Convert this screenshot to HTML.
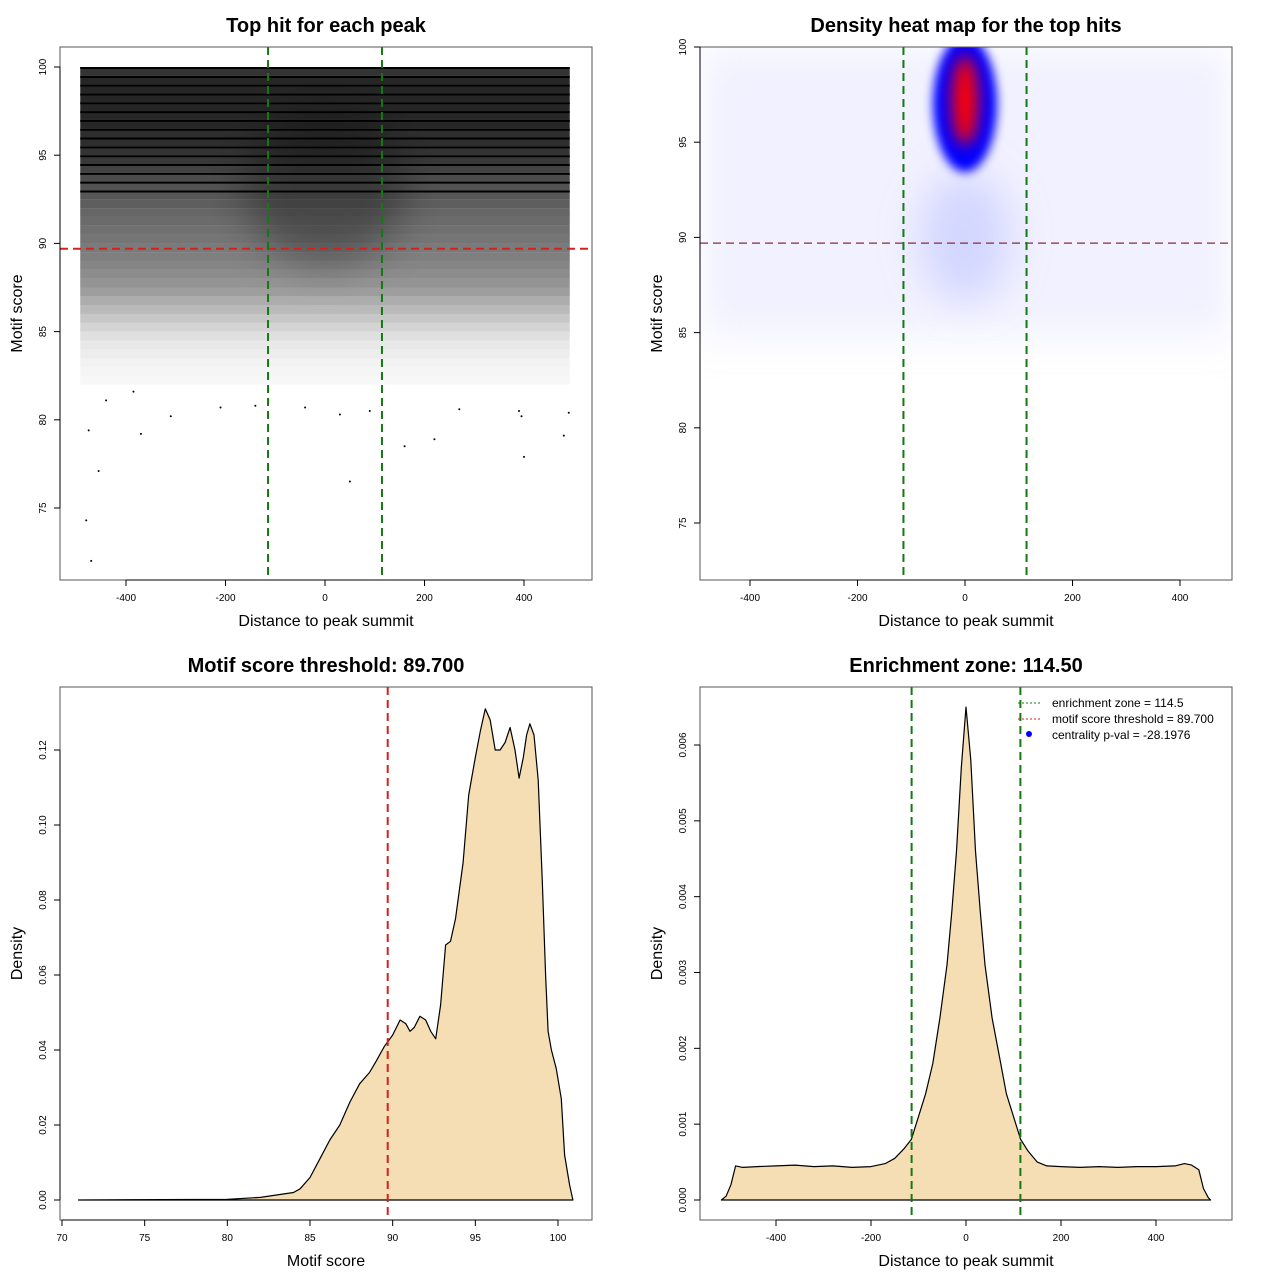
<!DOCTYPE html>
<html><head><meta charset="utf-8"><style>
body{margin:0;background:#fff}
svg{display:block;font-family:"Liberation Sans",sans-serif}
</style></head><body>
<svg id="s" width="1280" height="1280" viewBox="0 0 1280 1280">
<defs>
<filter id="blur8" x="-50%" y="-50%" width="200%" height="200%"><feGaussianBlur stdDeviation="8"/></filter>
<filter id="blur5" x="-50%" y="-50%" width="200%" height="200%"><feGaussianBlur stdDeviation="5"/></filter>
<filter id="blur20" x="-50%" y="-50%" width="200%" height="200%"><feGaussianBlur stdDeviation="20"/></filter>
<clipPath id="c2"><rect x="700" y="47" width="532" height="533"/></clipPath>
<clipPath id="c1"><rect x="60" y="47" width="532" height="533"/></clipPath>
</defs>
<g id="p1"></g>
<g id="p2"></g>
<g id="p3"></g>
<g id="p4"></g>
</svg>
<script>
// ---- data ----
const bandScores = [100,99.5,99,98.5,98,97.5,97,96.5,96,95.5,95,94.5,94,93.5,93,92.5,92,91.5,91,90.5,90,89.5,89,88.5,88,87.5,87,86.5,86,85.5,85,84.5,84,83.5,83,82.5];
const bandDensity = [0.8,0.85,0.85,0.85,0.85,0.85,0.85,0.82,0.82,0.8,0.78,0.74,0.7,0.68,0.66,0.63,0.6,0.58,0.56,0.54,0.52,0.5,0.48,0.45,0.42,0.38,0.32,0.27,0.22,0.17,0.12,0.09,0.07,0.05,0.04,0.03];
const outlierX = [-480,-470,-455,-475,-370,-310,-210,-140,-40,30,50,160,220,270,390,395,400,480,490,-440,-385,90];
const outlierY = [74.3,72.0,77.1,79.4,79.2,80.2,80.7,80.8,80.7,80.3,76.5,78.5,78.9,80.6,80.5,80.2,77.9,79.1,80.4,81.1,81.6,80.5];
const scoreGrid = [71,80,82,84,84.4,85,85.6,86.2,86.8,87.4,88,88.6,89,89.5,90,90.45,90.8,91.05,91.3,91.65,92,92.3,92.6,92.9,93.2,93.5,93.8,94.26,94.6,95,95.3,95.6,95.9,96.2,96.5,96.8,97.1,97.4,97.65,97.9,98.1,98.3,98.55,98.8,99.05,99.25,99.4,99.6,99.9,100.2,100.4,100.7,100.9];
const scoreDens = [0,0.0002,0.0007,0.002,0.003,0.006,0.011,0.016,0.02,0.026,0.031,0.034,0.037,0.041,0.044,0.048,0.047,0.045,0.046,0.049,0.048,0.045,0.043,0.052,0.068,0.069,0.075,0.09,0.108,0.118,0.125,0.131,0.128,0.12,0.12,0.122,0.126,0.12,0.1125,0.118,0.124,0.127,0.124,0.112,0.085,0.06,0.045,0.04,0.035,0.027,0.012,0.004,0];
const distGrid = [-515,-505,-495,-485,-470,-440,-400,-360,-320,-280,-240,-200,-170,-150,-130,-115,-100,-85,-70,-55,-40,-30,-20,-10,0,10,20,30,40,55,70,85,100,115,130,150,170,200,240,280,320,360,400,440,460,475,490,500,510,515];
const distDens = [0,0.00005,0.0002,0.00045,0.00043,0.00044,0.00045,0.00046,0.00044,0.00045,0.00043,0.00044,0.00048,0.00055,0.00068,0.0008,0.0011,0.0014,0.0018,0.0024,0.0031,0.0038,0.0046,0.0057,0.0065,0.0058,0.0046,0.0038,0.0031,0.0024,0.0019,0.0014,0.0011,0.0008,0.00065,0.0005,0.00045,0.00044,0.00043,0.00044,0.00043,0.00044,0.00044,0.00045,0.00048,0.00046,0.0004,0.00015,0.00003,0];
const xTicksDist = [-400,-200,0,200,400];
const yTicksScore1 = [75,80,85,90,95,100];
const yTicksScore2 = [75,80,85,90,95,100];
const xTicksScore = [70,75,80,85,90,95,100];
const yTicksD3 = [0,0.02,0.04,0.06,0.08,0.10,0.12];
const yTicksD3Lab = ["0.00","0.02","0.04","0.06","0.08","0.10","0.12"];
const yTicksD4 = [0,0.001,0.002,0.003,0.004,0.005,0.006];
const yTicksD4Lab = ["0.000","0.001","0.002","0.003","0.004","0.005","0.006"];
const threshold = 89.7, zone = 114.5;

const NS="http://www.w3.org/2000/svg";
function mk(parent,tag,attrs,text){const e=document.createElementNS(NS,tag);for(const k in attrs)e.setAttribute(k,attrs[k]);if(text!==undefined)e.textContent=text;parent.appendChild(e);return e;}
function lin(d0,d1,r0,r1){return v=>r0+(v-d0)*(r1-r0)/(d1-d0);}

function frame(g,x,y,w,h,title,xlab,ylab){
  const b=mk(g,'rect',{x:x,y:y,width:w,height:h,fill:'none',stroke:'#555','stroke-width':1});
  
  const t=mk(g,'text',{x:x+w/2,y:y-15,'text-anchor':'middle','font-size':20,'font-weight':'bold'},title);
  
  const xl=mk(g,'text',{x:x+w/2,y:y+h+46,'text-anchor':'middle','font-size':16},xlab);
  
  const yl=mk(g,'text',{x:0,y:0,'text-anchor':'middle','font-size':16,transform:`translate(${x-38},${y+h/2}) rotate(-90)`},ylab);
  
}
function xaxis(g,ticks,labs,sx,ybase){
  const ax=mk(g,'g',{});
  mk(ax,'line',{x1:sx(ticks[0]),x2:sx(ticks[ticks.length-1]),y1:ybase,y2:ybase,stroke:'#000'});
  ticks.forEach((t,i)=>{mk(ax,'line',{x1:sx(t),x2:sx(t),y1:ybase,y2:ybase+6,stroke:'#000'});
    const l=mk(ax,'text',{x:sx(t),y:ybase+21,'text-anchor':'middle','font-size':10},labs[i]);
    });
}
function yaxis(g,ticks,labs,sy,xbase){
  const ax=mk(g,'g',{});
  mk(ax,'line',{x1:xbase,x2:xbase,y1:sy(ticks[0]),y2:sy(ticks[ticks.length-1]),stroke:'#000'});
  ticks.forEach((t,i)=>{mk(ax,'line',{x1:xbase,x2:xbase-6,y1:sy(t),y2:sy(t),stroke:'#000'});
    const l=mk(ax,'text',{x:0,y:0,'text-anchor':'middle','font-size':10,transform:`translate(${xbase-14},${sy(t)}) rotate(-90)`},labs[i]);
    });
}
function vline(g,x,y0,y1,col,name){const l=mk(g,'line',{x1:x,x2:x,y1:y0,y2:y1,stroke:col,'stroke-width':2,'stroke-dasharray':'8,5'});}
function hline(g,y,x0,x1,col,name,w){const l=mk(g,'line',{x1:x0,x2:x1,y1:y,y2:y,stroke:col,'stroke-width':w||2,'stroke-dasharray':'8,5'});}

// ---- panel 1 ----
(function(){
  const g=document.getElementById('p1');
  const sx=lin(0,400,325,524), sy=lin(75,100,508,67);
  const cg=mk(g,'g',{'clip-path':'url(#c1)'});
  bandScores.forEach((s,i)=>{
    const r=mk(cg,'rect',{x:sx(-492),y:sy(s),width:sx(492)-sx(-492),height:sy(s-0.5)-sy(s),fill:'#000','fill-opacity':bandDensity[i]});
    
    if(s>=93){const l=mk(cg,'line',{x1:sx(-492),x2:sx(492),y1:sy(s)+1,y2:sy(s)+1,stroke:'#000','stroke-width':2});
      }
  });
  const c=mk(cg,'ellipse',{cx:sx(0),cy:sy(93),rx:80,ry:75,fill:'#000','fill-opacity':0.3,filter:'url(#blur20)'});
  
  outlierX.forEach((x,i)=>{const p=mk(g,'circle',{cx:sx(x),cy:sy(outlierY[i]),r:1,fill:'#000'});
    });
  hline(g,sy(threshold),60,592,'#d62020','threshold-line');
  vline(g,sx(-zone),47,580,'#137a13','zone-line-left');vline(g,sx(zone),47,580,'#137a13','zone-line-right');
  frame(g,60,47,532,533,'Top hit for each peak','Distance to peak summit','Motif score');
  xaxis(g,xTicksDist,xTicksDist.map(String),sx,580);
  yaxis(g,yTicksScore1,yTicksScore1.map(String),sy,60);
})();

// ---- panel 2 ----
(function(){
  const g=document.getElementById('p2');
  const sx=lin(0,400,965,1180), sy=lin(75,100,523,47);
  const cg=mk(g,'g',{'clip-path':'url(#c2)'});
  const h=mk(cg,'rect',{x:700,y:47,width:532,height:290,fill:'#d0d0ff','fill-opacity':0.3,filter:'url(#blur20)'});
  
  const h2=mk(cg,'ellipse',{cx:sx(0),cy:sy(90),rx:45,ry:65,fill:'#b0b5ff','fill-opacity':0.45,filter:'url(#blur20)'});
  
  const b=mk(cg,'ellipse',{cx:sx(0),cy:sy(97),rx:32,ry:68,fill:'#0000ff',filter:'url(#blur5)'});
  
  const r=mk(cg,'ellipse',{cx:sx(0),cy:sy(97.2),rx:13,ry:45,fill:'#ff0000',filter:'url(#blur8)'});
  
  hline(g,sy(threshold),700,1232,'#8b2a3a','threshold-line',1.2);
  vline(g,sx(-zone),47,580,'#137a13','zone-line-left');vline(g,sx(zone),47,580,'#137a13','zone-line-right');
  frame(g,700,47,532,533,'Density heat map for the top hits','Distance to peak summit','Motif score');
  xaxis(g,xTicksDist,xTicksDist.map(String),sx,580);
  yaxis(g,yTicksScore2,yTicksScore2.map(String),sy,700);
})();

// ---- panel 3 ----
(function(){
  const g=document.getElementById('p3');
  const sx=lin(70,100,62,558), sy=lin(0,0.12,1200,750);
  let d='M'+sx(scoreGrid[0])+','+sy(0);
  scoreGrid.forEach((s,i)=>{d+=' L'+sx(s).toFixed(1)+','+sy(scoreDens[i]).toFixed(1);});
  d+=' L'+sx(scoreGrid[scoreGrid.length-1])+','+sy(0)+' Z';
  const p=mk(g,'path',{d:d,fill:'#f5deb3',stroke:'#000','stroke-width':1.2,'stroke-linejoin':'round'});
  
  vline(g,sx(threshold),687,1220,'#d62020','threshold-line');
  frame(g,60,687,532,533,'Motif score threshold: 89.700','Motif score','Density');
  xaxis(g,xTicksScore,xTicksScore.map(String),sx,1220);
  yaxis(g,yTicksD3,yTicksD3Lab,sy,60);
})();

// ---- panel 4 ----
(function(){
  const g=document.getElementById('p4');
  const sx=lin(0,400,966,1156), sy=lin(0,0.006,1200,745);
  let d='M'+sx(distGrid[0])+','+sy(0);
  distGrid.forEach((s,i)=>{d+=' L'+sx(s).toFixed(1)+','+sy(distDens[i]).toFixed(1);});
  d+=' Z';
  const p=mk(g,'path',{d:d,fill:'#f5deb3',stroke:'#000','stroke-width':1.2,'stroke-linejoin':'round'});
  
  vline(g,sx(-zone),687,1220,'#137a13','zone-line-left');vline(g,sx(zone),687,1220,'#137a13','zone-line-right');
  frame(g,700,687,532,533,'Enrichment zone: 114.50','Distance to peak summit','Density');
  xaxis(g,xTicksDist,xTicksDist.map(String),sx,1220);
  yaxis(g,yTicksD4,yTicksD4Lab,sy,700);
  const lg=mk(g,'g',{});
  const e1=mk(lg,'line',{x1:1018,x2:1042,y1:703,y2:703,stroke:'#137a13','stroke-dasharray':'2,2'});
  
  const t1=mk(lg,'text',{x:1052,y:707,'font-size':12},'enrichment zone = 114.5');
  
  const e2=mk(lg,'line',{x1:1018,x2:1042,y1:719,y2:719,stroke:'#d62020','stroke-dasharray':'2,2'});
  
  const t2=mk(lg,'text',{x:1052,y:723,'font-size':12},'motif score threshold = 89.700');
  
  const e3=mk(lg,'circle',{cx:1029,cy:734,r:3,fill:'#0000ff'});
  
  const t3=mk(lg,'text',{x:1052,y:739,'font-size':12},'centrality p-val = -28.1976');
  
})();
</script>
</body></html>
